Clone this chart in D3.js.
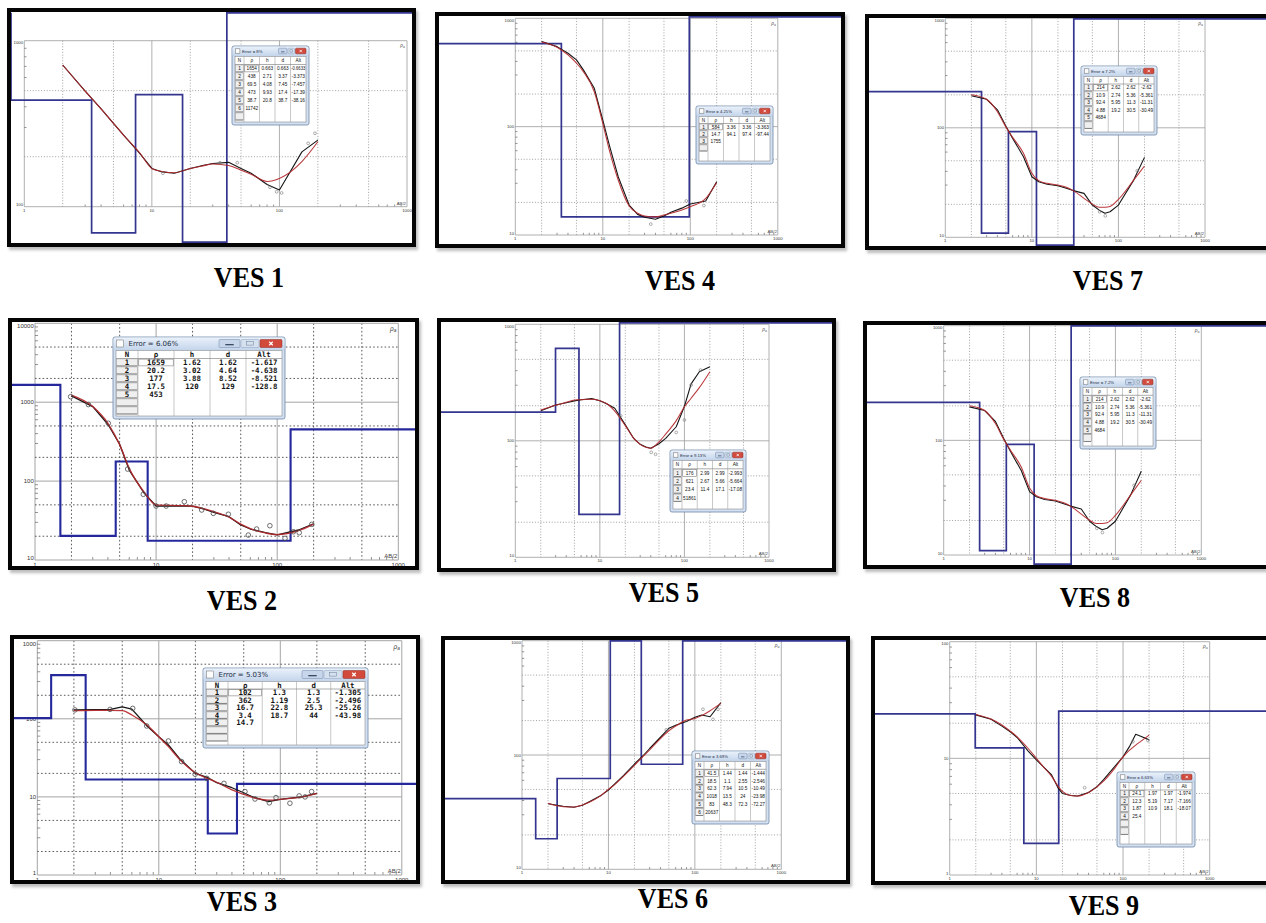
<!DOCTYPE html>
<html>
<head>
<meta charset="utf-8">
<script src="https://cdn.jsdelivr.net/npm/d3@7"></script>
<style>
  html, body { margin: 0; padding: 0; background: #fff; }
  svg { display: block; }
</style>
</head>
<body>
<svg id="fig" width="1266" height="923"></svg>
<script>
// ---------- Sounding data: AB/2 (m) vs apparent resistivity (Ohm.m) ----------
// VES 1
const ves1AB = [2, 3, 4, 5, 6, 8, 10, 12, 15, 20, 25, 30, 40, 50, 60, 80, 100, 150, 200];
const ves1Obs = [714, 497, 388, 318, 270, 210, 170, 162, 159, 170, 177, 182, 185, 170, 159, 136, 126, 214, 252];
const ves1Calc = [714, 497, 388, 318, 270, 212, 170, 163, 160, 170, 176, 181, 177, 166, 157, 142, 148, 187, 246];
const ves1RawAB = [12.2, 34.2, 46.7, 84.3, 95, 104, 168, 190];
const ves1RawRho = [159, 184, 184, 131, 123, 121, 241, 277];
const ves1Rho = [1654, 438, 69.5, 473, 38.7, 11742];
const ves1H = [0.663, 2.71, 4.08, 9.93, 20.8];
const ves1D = [0.663, 3.37, 7.45, 17.4, 38.7];
const ves1Alt = [-0.6633, -3.373, -7.457, -17.39, -38.16];
const ves1Error = "8%";

// VES 2
const ves2AB = [2, 3, 4, 5, 6, 8, 10, 15, 20, 25, 30, 40, 50, 60, 80, 100, 150, 200];
const ves2Obs = [1200, 877, 525, 293, 138, 70, 48.3, 48.7, 48.3, 44, 40.2, 35.4, 27.8, 24.7, 22.2, 20.8, 24, 28.8];
const ves2Calc = [1230, 880, 540, 290, 145, 72, 50, 49, 48, 44.5, 41, 35, 28.5, 25, 22, 21, 23.5, 28.5];
const ves2RawAB = [1.97, 2.76, 4.03, 5.82, 7.84, 10, 12.1, 17.1, 23.8, 29.7, 39.5, 57.7, 67.6, 87, 116, 136, 152, 193];
const ves2RawRho = [1175, 933, 541, 142, 68, 48.3, 48.3, 54.8, 43, 39, 38, 20.7, 24.7, 27.2, 18.8, 22.8, 22.2, 28.3];
const ves2Rho = [1659, 20.2, 177, 17.5, 453];
const ves2H = [1.62, 3.02, 3.88, 120];
const ves2D = [1.62, 4.64, 8.52, 129];
const ves2Alt = [-1.617, -4.638, -8.521, -128.8];
const ves2Error = "6.06%";

// VES 3
const ves3AB = [2, 3, 4, 5, 6, 8, 10, 12, 15, 20, 25, 30, 40, 50, 60, 80, 100, 150, 200];
const ves3Obs = [130, 131, 132, 142, 133, 81, 59, 46.2, 30.3, 20, 17.8, 15.2, 13.1, 11.3, 9.9, 8.7, 9.3, 10, 11.1];
const ves3Calc = [127, 128, 128, 127, 112, 83, 59, 44, 29.7, 20.4, 17.3, 15.4, 12.3, 10.8, 9.8, 9.1, 9.3, 10, 11.1];
const ves3RawAB = [2.04, 3.97, 6.1, 7.95, 12, 15.4, 19.9, 24.8, 34.4, 51.2, 61.9, 81.2, 92.2, 120, 143, 160, 181];
const ves3RawRho = [130, 132, 136, 81, 52, 28.3, 19.5, 17.3, 14.9, 11.7, 9.4, 8.4, 9.8, 8.3, 10.3, 10, 11.7];
const ves3Rho = [102, 362, 16.7, 3.4, 14.7];
const ves3H = [1.3, 1.19, 22.8, 18.7];
const ves3D = [1.3, 2.5, 25.3, 44];
const ves3Alt = [-1.305, -2.496, -25.26, -43.98];
const ves3Error = "5.03%";

// VES 4
const ves4AB = [2, 3, 4, 5, 6, 8, 10, 12, 15, 20, 25, 30, 40, 50, 60, 80, 100, 150, 200];
const ves4Obs = [610, 548, 476, 413, 334, 226, 115, 65.3, 34.5, 18.9, 15.5, 14.6, 14.0, 15.0, 16.2, 17.7, 19.3, 20.6, 31];
const ves4Calc = [605, 541, 459, 385, 322, 210, 107, 58.8, 32.2, 18.5, 15.9, 15, 14.7, 15.3, 15.9, 17, 18.2, 21.8, 30.4];
const ves4RawAB = [35.3, 90, 143];
const ves4RawRho = [12.6, 20.6, 18.7];
const ves4Rho = [584, 14.7, 1755];
const ves4H = [3.36, 94.1];
const ves4D = [3.36, 97.4];
const ves4Alt = [-3.363, -97.44];
const ves4Error = "4.25%";

// VES 5
const ves5AB = [2, 3, 4, 5, 6, 8, 10, 12, 15, 20, 25, 30, 35, 40, 50, 60, 80, 100, 120, 150, 200];
const ves5Obs = [181, 203, 212, 220, 225, 230, 221, 208, 190, 137, 105, 93.3, 88.5, 86.3, 94.4, 105, 132, 198, 308, 392, 433];
const ves5Calc = [184, 202, 214, 224, 225, 227, 221, 209, 180, 135, 106, 93.3, 88, 86.3, 98, 114, 149, 196, 232, 286, 392];
const ves5RawAB = [17.6, 40.5, 45.6, 80, 100, 120, 155];
const ves5RawRho = [164, 79.6, 76.6, 118, 151, 301, 405];
const ves5Rho = [176, 621, 23.4, 51861];
const ves5H = [2.99, 2.67, 11.4];
const ves5D = [2.99, 5.66, 17.1];
const ves5Alt = [-2.993, -5.664, -17.08];
const ves5Error = "9.13%";

// VES 6
const ves6AB = [2, 3, 4, 5, 6, 8, 10, 12, 15, 20, 25, 30, 40, 50, 60, 80, 100, 120, 150, 200];
const ves6Obs = [37.5, 35.6, 34.9, 36.3, 39, 43.7, 49.4, 56.5, 66.4, 83.4, 98, 114, 143, 171, 182, 196, 214, 224, 216, 287];
const ves6Calc = [37.8, 35.3, 35.1, 36.5, 38.6, 43.7, 50.1, 55.7, 65.5, 81.3, 96.6, 111, 139, 163, 179, 202, 209, 221, 244, 283];
const ves6RawAB = [46.7, 124, 162, 185];
const ves6RawRho = [166, 251, 205, 251];
const ves6Rho = [41.5, 18.5, 62.3, 1018, 83, 20637];
const ves6H = [1.44, 1.1, 7.94, 13.5, 48.3];
const ves6D = [1.44, 2.55, 10.5, 24, 72.3];
const ves6Alt = [-1.444, -2.546, -10.49, -23.98, -72.27];
const ves6Error = "3.69%";

// VES 7 (VES 8 is the same sounding)
const ves7AB = [2, 3, 4, 5, 6, 8, 10, 12, 15, 20, 25, 30, 40, 50, 60, 70, 80, 100, 150, 200];
const ves7Obs = [196, 182, 146, 104, 80, 54.5, 35.7, 32.2, 30.5, 29.6, 28, 26.7, 25.2, 19.7, 17.7, 16.6, 17.1, 19.7, 33.3, 53.7];
const ves7Calc = [200, 182, 140, 102, 81.8, 58.5, 38.4, 32.9, 31.1, 30, 28.6, 26.7, 22.7, 20.1, 18.8, 18.8, 19.1, 22.2, 33.3, 44.8];
const ves7RawAB = [60.7, 70.5, 165];
const ves7RawRho = [17.1, 15.7, 40.5];
const ves7Rho = [214, 10.9, 92.4, 4.88, 4684];
const ves7H = [2.62, 2.74, 5.95, 19.2];
const ves7D = [2.62, 5.36, 11.3, 30.5];
const ves7Alt = [-2.62, -5.361, -11.31, -30.49];
const ves7Error = "7.2%";

// VES 9
const ves9AB = [2, 3, 4, 5, 6, 8, 10, 12, 15, 18, 20, 25, 30, 40, 50, 60, 80, 100, 120, 140, 160, 200];
const ves9Obs = [23.6, 21.6, 18.9, 16.9, 15.1, 11.6, 9.7, 8.5, 7.2, 5.5, 5.0, 4.8, 4.75, 5.1, 5.7, 6.6, 8.5, 10.3, 12.8, 16.1, 15.5, 14.4];
const ves9Calc = [23.8, 21.7, 19.3, 17.1, 15.3, 12.2, 10, 8.5, 7.0, 5.7, 5.2, 4.8, 4.75, 5.1, 5.7, 6.4, 8.2, 10.3, 11.8, 13.0, 14.0, 15.8];
const ves9RawAB = [36.1, 130, 194];
const ves9RawRho = [5.6, 13.9, 14.2];
const ves9Rho = [24.1, 12.3, 1.87, 25.4];
const ves9H = [1.97, 5.19, 10.9];
const ves9D = [1.97, 7.17, 18.1];
const ves9Alt = [-1.974, -7.166, -18.07];
const ves9Error = "6.63%";

const abDomain = [1, 1000];
const tableHeader = ["N", "\u03c1", "h", "d", "Alt"];

// ---------- Panel layout (frame, plot ranges, table window, caption) ----------
const layout = [
  { id: 1, frame: [7, 8, 409, 239],    xr: [24.3, 407],    yr: [206.7, 40.7], yd: [100, 1000], cap: [249, 287], tbl: [232, 46, 77, 79, 8, 7] },
  { id: 4, frame: [435, 12, 410, 236], xr: [515.3, 777.8], yr: [235, 18.3],   yd: [10, 1000],  cap: [680, 290], tbl: [696, 106, 77, 58, 7, 4] },
  { id: 7, frame: [865, 14, 410, 236], xr: [945.3, 1205],  yr: [237.3, 18.3], yd: [10, 1000],  cap: [1108, 290], tbl: [1081, 66, 76, 69, 7.5, 6] },
  { id: 2, frame: [8, 318, 411, 252],  xr: [35, 398.3],    yr: [560, 323.3],  yd: [10, 10000], cap: [242, 610], tbl: [113, 337, 172, 82, 8, 7], big: true },
  { id: 5, frame: [437, 318, 399, 254], xr: [515.3, 769],  yr: [557.3, 324.3], yd: [10, 1000], cap: [664, 602], tbl: [670, 450, 76, 62, 8.3, 4] },
  { id: 8, frame: [863, 321, 410, 248], xr: [943.7, 1201.3], yr: [555, 325.7], yd: [10, 1000], cap: [1095, 607], tbl: [1080, 377, 76, 72, 7.8, 6] },
  { id: 3, frame: [10, 635, 410, 249], xr: [37.3, 401.8],  yr: [875, 640.7],  yd: [1, 1000],   cap: [242, 911], tbl: [203, 668, 165, 80, 7.5, 7], big: true },
  { id: 6, frame: [441, 636, 409, 248], xr: [522, 781.3],  yr: [869.3, 640.7], yd: [10, 1000], cap: [673, 908], tbl: [692, 751, 77, 73, 7.8, 6] },
  { id: 9, frame: [871, 636, 405, 249], xr: [949.7, 1209.7], yr: [875, 641.7], yd: [1, 100],  cap: [1104, 915], tbl: [1117, 772, 78, 75, 7.5, 6] }
];

const series = {
  1: { ab: ves1AB, obs: ves1Obs, calc: ves1Calc, rawAB: ves1RawAB, rawRho: ves1RawRho, rho: ves1Rho, h: ves1H, d: ves1D, alt: ves1Alt, err: ves1Error },
  2: { ab: ves2AB, obs: ves2Obs, calc: ves2Calc, rawAB: ves2RawAB, rawRho: ves2RawRho, rho: ves2Rho, h: ves2H, d: ves2D, alt: ves2Alt, err: ves2Error },
  3: { ab: ves3AB, obs: ves3Obs, calc: ves3Calc, rawAB: ves3RawAB, rawRho: ves3RawRho, rho: ves3Rho, h: ves3H, d: ves3D, alt: ves3Alt, err: ves3Error },
  4: { ab: ves4AB, obs: ves4Obs, calc: ves4Calc, rawAB: ves4RawAB, rawRho: ves4RawRho, rho: ves4Rho, h: ves4H, d: ves4D, alt: ves4Alt, err: ves4Error },
  5: { ab: ves5AB, obs: ves5Obs, calc: ves5Calc, rawAB: ves5RawAB, rawRho: ves5RawRho, rho: ves5Rho, h: ves5H, d: ves5D, alt: ves5Alt, err: ves5Error },
  6: { ab: ves6AB, obs: ves6Obs, calc: ves6Calc, rawAB: ves6RawAB, rawRho: ves6RawRho, rho: ves6Rho, h: ves6H, d: ves6D, alt: ves6Alt, err: ves6Error },
  7: { ab: ves7AB, obs: ves7Obs, calc: ves7Calc, rawAB: ves7RawAB, rawRho: ves7RawRho, rho: ves7Rho, h: ves7H, d: ves7D, alt: ves7Alt, err: ves7Error },
  8: { ab: ves7AB, obs: ves7Obs, calc: ves7Calc, rawAB: ves7RawAB, rawRho: ves7RawRho, rho: ves7Rho, h: ves7H, d: ves7D, alt: ves7Alt, err: ves7Error },
  9: { ab: ves9AB, obs: ves9Obs, calc: ves9Calc, rawAB: ves9RawAB, rawRho: ves9RawRho, rho: ves9Rho, h: ves9H, d: ves9D, alt: ves9Alt, err: ves9Error }
};

// ---------- Drawing ----------
const svg = d3.select("#fig");
const defs = svg.append("defs");
defs.append("filter").attr("id", "soft")
  .attr("x", "-5%").attr("y", "-5%").attr("width", "110%").attr("height", "110%")
  .append("feGaussianBlur").attr("stdDeviation", 1.6);
const tg = defs.append("linearGradient").attr("id", "titleGrad")
  .attr("x1", 0).attr("y1", 0).attr("x2", 0).attr("y2", 1);
tg.append("stop").attr("offset", 0).attr("stop-color", "#eaf1fa");
tg.append("stop").attr("offset", 1).attr("stop-color", "#c2d4eb");

function logTicks(dom) {
  const out = [];
  const e0 = Math.floor(Math.log10(dom[0]) + 1e-9);
  const e1 = Math.ceil(Math.log10(dom[1]) - 1e-9);
  for (let e = e0; e <= e1; e++) {
    for (let m = 1; m < 10; m++) {
      const v = m * Math.pow(10, e);
      if (v >= dom[0] * 0.999 && v <= dom[1] * 1.001) out.push({ v, m });
    }
  }
  return out;
}

function drawGrid(g, xs, ys, big) {
  const [x0, x1] = xs.range();
  const [yb, yt] = ys.range();
  const solid = big ? "#a4a4a4" : "#9c9c9c";
  const dotted = big ? "#5a5a5a" : "#8a8a8a";
  const dash = big ? "1.6,2.2" : "1,1.8";
  logTicks(xs.domain()).forEach(t => {
    const x = xs(t.v);
    if (t.m === 1) {
      g.append("line").attr("x1", x).attr("x2", x).attr("y1", yt).attr("y2", yb)
        .attr("stroke", solid).attr("stroke-width", big ? 1 : 0.8);
    } else if (t.m === 2 || t.m === 5) {
      g.append("line").attr("x1", x).attr("x2", x).attr("y1", yt).attr("y2", yb)
        .attr("stroke", dotted).attr("stroke-width", big ? 1 : 0.8).attr("stroke-dasharray", dash);
    } else {
      g.append("line").attr("x1", x).attr("x2", x).attr("y1", yb).attr("y2", yb - (big ? 3 : 2.2))
        .attr("stroke", "#666").attr("stroke-width", 0.7);
    }
  });
  logTicks(ys.domain()).forEach(t => {
    const y = ys(t.v);
    if (t.m === 1) {
      g.append("line").attr("x1", x0).attr("x2", x1).attr("y1", y).attr("y2", y)
        .attr("stroke", solid).attr("stroke-width", big ? 1 : 0.8);
    } else if (t.m === 2 || t.m === 5) {
      g.append("line").attr("x1", x0).attr("x2", x1).attr("y1", y).attr("y2", y)
        .attr("stroke", dotted).attr("stroke-width", big ? 1 : 0.8).attr("stroke-dasharray", dash);
    } else {
      g.append("line").attr("x1", x0).attr("x2", x0 + (big ? 3 : 2.2)).attr("y1", y).attr("y2", y)
        .attr("stroke", "#666").attr("stroke-width", 0.7);
    }
  });
}

function drawAxisText(g, xs, ys, big) {
  const fs = big ? 6 : 4.3;
  const [x0, x1] = xs.range();
  const [yb, yt] = ys.range();
  const font = "Liberation Sans, Arial, sans-serif";
  logTicks(xs.domain()).filter(t => t.m === 1).forEach(t => {
    g.append("text").attr("x", xs(t.v)).attr("y", yb + fs + 0.8)
      .attr("text-anchor", "middle").attr("font-family", font).attr("font-size", fs)
      .attr("fill", "#333").text(String(t.v));
  });
  const yDec = logTicks(ys.domain()).filter(t => t.m === 1);
  yDec.forEach((t, i) => {
    let y = ys(t.v) + fs * 0.35;
    if (i === yDec.length - 1) y = ys(t.v) + fs * 0.8;
    if (i === 0) y = ys(t.v) - 0.5;
    g.append("text").attr("x", x0 - 1.2).attr("y", y)
      .attr("text-anchor", "end").attr("font-family", font).attr("font-size", fs)
      .attr("fill", "#333").text(String(t.v));
  });
  const rl = g.append("text").attr("x", x1 - 2).attr("y", yt + fs + 2)
    .attr("text-anchor", "end").attr("font-family", font).attr("font-size", fs + 0.5)
    .attr("fill", "#444").attr("font-style", "italic");
  rl.append("tspan").text("\u03c1");
  rl.append("tspan").attr("font-size", fs * 0.8).attr("dy", 1).text("a");
  g.append("text").attr("x", x1 - 1).attr("y", yb - 2)
    .attr("text-anchor", "end").attr("font-family", font).attr("font-size", fs)
    .attr("fill", "#444").text("AB/2");
}

function drawModel(g, xs, ys, rho, depth, inner, big) {
  const cx = v => Math.max(inner.x, Math.min(inner.x + inner.w, v));
  const cy = v => Math.max(inner.y + 0.8, Math.min(inner.y + inner.h - 0.8, v));
  const pts = [[inner.x, cy(ys(rho[0]))]];
  depth.forEach((dep, i) => {
    const x = cx(xs(dep));
    pts.push([x, cy(ys(rho[i]))]);
    pts.push([x, cy(ys(rho[i + 1]))]);
  });
  pts.push([inner.x + inner.w, cy(ys(rho[rho.length - 1]))]);
  g.append("path").attr("d", d3.line()(pts))
    .attr("fill", "none").attr("stroke", big ? "#24289a" : "#34358f")
    .attr("stroke-width", big ? 2.1 : 1.7).attr("stroke-linejoin", "miter");
}

function fitText(sel, maxW) {
  const w = sel.node().getComputedTextLength();
  if (w > maxW) sel.attr("textLength", maxW).attr("lengthAdjust", "spacingAndGlyphs");
}

function drawTable(g, t, big, s) {
  const [x, y, w, h, rh, nRows] = t;
  const th = big ? 13 : 10;
  const win = g.append("g");
  win.append("rect").attr("x", x).attr("y", y).attr("width", w).attr("height", h).attr("rx", 2)
    .attr("fill", "#d2e0f1").attr("stroke", "#7088a8").attr("stroke-width", 0.8);
  win.append("rect").attr("x", x + 0.5).attr("y", y + 0.5).attr("width", w - 1).attr("height", th)
    .attr("rx", 2).attr("fill", "url(#titleGrad)");
  // title bar: icon, caption, window buttons
  const ic = big ? 7 : 4.4;
  win.append("rect").attr("x", x + 3.5).attr("y", y + (th - ic) / 2).attr("width", ic).attr("height", ic)
    .attr("fill", "#fdfdfd").attr("stroke", "#6d6d6d").attr("stroke-width", 0.5);
  const tf = big ? 7 : 4.3;
  const title = win.append("text").attr("x", x + 3.5 + ic + (big ? 5 : 2)).attr("y", y + th / 2 + tf * 0.36)
    .attr("font-family", big ? "DejaVu Sans, sans-serif" : "Liberation Sans, Arial, sans-serif")
    .attr("font-size", tf).attr("fill", "#1c2c44").text("Error = " + s.err);
  fitText(title, big ? 70 : 26);
  const bh = big ? 8 : 5.6;
  const by = y + (th - bh) / 2;
  const cw = big ? 22 : 10.5;
  const mw = big ? 18 : 6.5;
  const nw = big ? 21 : 8.5;
  const cxB = x + w - 3 - cw;
  const mxB = cxB - mw - 1;
  const nxB = mxB - nw - 1;
  win.append("rect").attr("x", nxB).attr("y", by).attr("width", nw).attr("height", bh).attr("rx", 1)
    .attr("fill", "#c7d6ea").attr("stroke", "#6e86a8").attr("stroke-width", 0.5);
  win.append("line").attr("x1", nxB + nw * 0.3).attr("x2", nxB + nw * 0.7).attr("y1", by + bh * 0.65).attr("y2", by + bh * 0.65)
    .attr("stroke", "#2d3d55").attr("stroke-width", big ? 1.2 : 0.7);
  win.append("rect").attr("x", mxB).attr("y", by).attr("width", mw).attr("height", bh).attr("rx", 1)
    .attr("fill", "#d6e1ef").attr("stroke", "#8aa0bd").attr("stroke-width", 0.5);
  win.append("rect").attr("x", mxB + mw * 0.3).attr("y", by + bh * 0.28).attr("width", mw * 0.4).attr("height", bh * 0.42)
    .attr("fill", "none").attr("stroke", "#6a7d98").attr("stroke-width", 0.5);
  win.append("rect").attr("x", cxB).attr("y", by).attr("width", cw).attr("height", bh).attr("rx", 1)
    .attr("fill", "#d24a3c").attr("stroke", "#8c2a22").attr("stroke-width", 0.5);
  const xm = cxB + cw / 2, ym = by + bh / 2, xr = bh * 0.22;
  win.append("path").attr("d", `M${xm - xr},${ym - xr}L${xm + xr},${ym + xr}M${xm + xr},${ym - xr}L${xm - xr},${ym + xr}`)
    .attr("stroke", "#fff").attr("stroke-width", big ? 1.2 : 0.8);

  // grid of layer parameters
  const gx = x + 3, gy = y + th + 0.5, gw = w - 6, gh = h - th - 3.5;
  win.append("rect").attr("x", gx).attr("y", gy).attr("width", gw).attr("height", gh)
    .attr("fill", "#fff").attr("stroke", "#8d8d8d").attr("stroke-width", 0.6);
  const nW = big ? 22 : 9;
  const colW = (gw - nW) / 4;
  const colX = i => (i === 0 ? gx + nW / 2 : gx + nW + colW * (i - 0.5));
  for (let k = 0; k < 4; k++) {
    const lx = gx + nW + colW * k;
    win.append("line").attr("x1", lx).attr("x2", lx).attr("y1", gy).attr("y2", gy + gh)
      .attr("stroke", "#a2a2a2").attr("stroke-width", 0.6);
  }
  win.append("line").attr("x1", gx).attr("x2", gx + gw).attr("y1", gy + rh).attr("y2", gy + rh)
    .attr("stroke", "#8a8a8a").attr("stroke-width", 0.7);
  for (let r = 0; r < nRows; r++) {
    const ry = gy + rh * (r + 1);
    if (ry + rh > gy + gh + 0.5) break;
    win.append("rect").attr("x", gx + 0.6).attr("y", ry + 0.4).attr("width", nW - 1.2).attr("height", rh - 0.8)
      .attr("fill", "#efefef").attr("stroke", "#8c8c8c").attr("stroke-width", 0.5);
    win.append("line").attr("x1", gx + 0.8).attr("x2", gx + nW - 0.8).attr("y1", ry + rh - 0.6).attr("y2", ry + rh - 0.6)
      .attr("stroke", "#555").attr("stroke-width", 0.6);
  }
  // focus box on the first resistivity cell
  win.append("rect").attr("x", gx + nW + 0.8).attr("y", gy + rh + 0.6).attr("width", colW - 1.6).attr("height", rh - 1.2)
    .attr("fill", "none").attr("stroke", "#666").attr("stroke-width", 0.5);

  const fs = big ? 7.4 : 4.7;
  const font = big ? "DejaVu Sans Mono, Liberation Mono, monospace" : "Liberation Sans Narrow, Liberation Sans, Arial, sans-serif";
  const weight = big ? "bold" : "normal";
  tableHeader.forEach((hd, i) => {
    const tx = win.append("text").attr("x", colX(i)).attr("y", gy + rh * 0.5 + fs * 0.36)
      .attr("text-anchor", "middle").attr("font-family", font).attr("font-weight", weight)
      .attr("font-size", fs).attr("fill", "#111").text(hd);
    fitText(tx, (i === 0 ? nW : colW) - 1.5);
  });
  s.rho.forEach((rv, r) => {
    const cells = [String(r + 1), String(rv),
      r < s.h.length ? String(s.h[r]) : "",
      r < s.d.length ? String(s.d[r]) : "",
      r < s.alt.length ? String(s.alt[r]) : ""];
    const ty = gy + rh * (r + 1) + rh * 0.5 + fs * 0.36;
    cells.forEach((c, i) => {
      if (!c) return;
      const tx = win.append("text").attr("x", colX(i)).attr("y", ty)
        .attr("text-anchor", "middle").attr("font-family", font).attr("font-weight", weight)
        .attr("font-size", fs).attr("fill", "#111").text(c);
      fitText(tx, (i === 0 ? nW : colW) - 1.5);
    });
  });
}

function drawPanel(p, s) {
  const [fx, fy, fw, fh] = p.frame;
  const big = !!p.big;
  const inner = { x: fx + 4, y: fy + 4, w: fw - 8, h: fh - 8 };
  const g = svg.append("g").attr("class", "panel ves" + p.id);

  g.append("rect").attr("x", fx + 2).attr("y", fy + 3).attr("width", fw).attr("height", fh)
    .attr("fill", "#6a6a6a").attr("opacity", 0.45).attr("filter", "url(#soft)");
  g.append("rect").attr("x", fx).attr("y", fy).attr("width", fw).attr("height", fh).attr("fill", "#fff");

  const clipId = "clip-ves" + p.id;
  defs.append("clipPath").attr("id", clipId).append("rect")
    .attr("x", inner.x).attr("y", inner.y).attr("width", inner.w).attr("height", inner.h);
  const plot = g.append("g").attr("clip-path", `url(#${clipId})`);

  const xs = d3.scaleLog().domain(abDomain).range(p.xr);
  const ys = d3.scaleLog().domain(p.yd).range(p.yr);

  drawGrid(plot, xs, ys, big);
  drawAxisText(plot, xs, ys, big);
  drawModel(plot, xs, ys, s.rho, s.d, inner, big);

  const obsLine = d3.line().x(d => xs(d[0])).y(d => ys(d[1]));
  const calcLine = d3.line().x(d => xs(d[0])).y(d => ys(d[1])).curve(d3.curveMonotoneX);
  plot.append("path").attr("d", obsLine(d3.zip(s.ab, s.obs)))
    .attr("fill", "none").attr("stroke", "#161616").attr("stroke-width", big ? 1.3 : 1.1)
    .attr("stroke-linejoin", "round");
  plot.append("path").attr("d", calcLine(d3.zip(s.ab, s.calc)))
    .attr("fill", "none").attr("stroke", "#b3262a").attr("stroke-width", big ? 1.3 : 1.05)
    .attr("opacity", 0.92);
  plot.selectAll("circle.raw").data(d3.zip(s.rawAB, s.rawRho)).join("circle")
    .attr("class", "raw")
    .attr("cx", d => xs(d[0])).attr("cy", d => ys(d[1]))
    .attr("r", big ? 2.3 : 1.4)
    .attr("fill", "none").attr("stroke", big ? "#4a4a4a" : "#777").attr("stroke-width", big ? 0.8 : 0.6);

  g.append("rect").attr("x", fx + 2).attr("y", fy + 2).attr("width", fw - 4).attr("height", fh - 4)
    .attr("fill", "none").attr("stroke", "#050505").attr("stroke-width", 4);

  drawTable(g, p.tbl, big, s);

  svg.append("text")
    .attr("transform", `translate(${p.cap[0]},${p.cap[1]}) scale(0.9,1)`)
    .attr("text-anchor", "middle")
    .attr("font-family", "Liberation Serif, 'Times New Roman', serif")
    .attr("font-weight", "bold").attr("font-size", 29).attr("fill", "#000")
    .text("VES " + p.id);
}

layout.forEach(p => drawPanel(p, series[p.id]));
</script>
</body>
</html>
